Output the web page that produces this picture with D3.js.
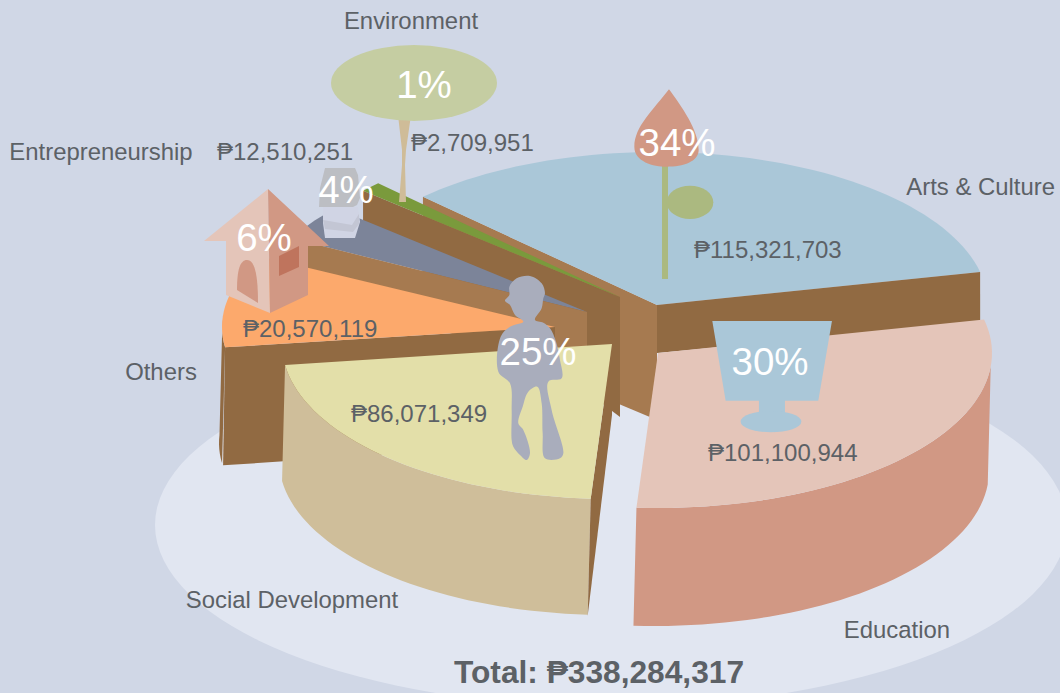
<!DOCTYPE html>
<html lang="en">
<head>
<meta charset="UTF-8">
<title>Total: ₱338,284,317</title>
<script src="https://d3js.org/d3.v7.min.js"></script>
<style>
    html, body { margin: 0; padding: 0; background: #d0d7e6; overflow: hidden; }
    svg { display: block; }
    text { font-family: "Liberation Sans", Arial, sans-serif; }
    .name { font-size: 23.9px; fill: #5c6166; }
    .amount { font-size: 24px; fill: #5c6166; }
    .pct { font-size: 38.5px; fill: #fff; text-anchor: middle; }
    .total { font-size: 31.7px; font-weight: bold; fill: #5c6166; text-anchor: middle; }
</style>
</head>
<body>
<svg width="1060" height="693"></svg>
<script>
    // data
    const categories = ["Arts & Culture", "Education", "Social Development", "Others", "Entrepreneurship", "Environment"];
    const amounts = [115321703, 101100944, 86071349, 20570119, 12510251, 2709951];
    const percents = ["34%", "30%", "25%", "6%", "4%", "1%"];
    const totalLabel = "Total: ₱338,284,317";

    // layout: one tilted ellipse per exploded slice (the picture is not a true projection)
    const topColor = ["#aac7d8", "#e4c5b9", "#e3dfa9", "#fca96c", "#7c8499", "#7a9a3c"];
    const geom = [
        { cx: 657, cy: 305, rx: 331, ry: 153 },
        { cx: 658, cy: 353, rx: 334, ry: 155 },
        { cx: 612, cy: 344, rx: 330, ry: 155 },
        { cx: 555, cy: 327, rx: 333, ry: 150 },
        { cx: 587, cy: 312, rx: 335, ry: 157 },
        { cx: 620, cy: 297, rx: 342, ry: 161 }
    ];
    const viewStops = [225, 347.5, 453.7, 532.2, 568, 581.3, 585];
    const namePos = [[1055, 195, "end"], [897, 638, "middle"], [292, 608, "middle"], [161, 380, "middle"], [101, 160, "middle"], [411, 29, "middle"]];
    const amountPos = [[694, 258], [708, 461], [351, 422], [243, 337], [217, 160], [411, 151]];
    const pctPos = [[677, 156], [770, 375], [538, 365], [264, 251], [346, 203], [424, 98]];

    const dark = "#916a42", light = "#a67a50";
    const svg = d3.select("svg");

    // pie boundaries -> drawn angle
    const arcs = d3.pie().sort(null).value(d => d)(amounts);
    const boundaries = arcs.map(a => a.startAngle).concat([arcs[arcs.length - 1].endAngle]);
    const viewAngle = d3.scaleLinear().domain(boundaries).range(viewStops);
    const angles = arcs.map(a => [viewAngle(a.startAngle), viewAngle(a.endAngle)]);

    const rad = d => d * Math.PI / 180;
    function rim(i, deg, drop, lean) {
        const g = geom[i];
        return [g.cx + g.rx * Math.cos(rad(deg)) + (lean || 0), g.cy + g.ry * Math.sin(rad(deg)) + (drop || 0)];
    }
    function sweep(a0, a1) {
        const n = Math.max(2, Math.ceil(Math.abs(a1 - a0) / 2));
        return d3.range(n + 1).map(k => a0 + (a1 - a0) * k / n);
    }
    const line = d3.line();
    function shape(points, fill) {
        return svg.append("path").attr("d", line(points) + "Z").attr("fill", fill);
    }
    function face(i) {
        const g = geom[i];
        shape([[g.cx, g.cy]].concat(sweep(angles[i][0], angles[i][1]).map(a => rim(i, a))), topColor[i]);
    }
    // cut wall between the apex and one rim point
    function wall(i, deg, outerDrop, apexDrop, fill, lean) {
        const g = geom[i];
        shape([rim(i, deg), [g.cx, g.cy], [g.cx, g.cy + apexDrop], rim(i, deg, outerDrop, lean)], fill);
    }
    // outside curved wall, bottom edge leans a little to the left in the picture
    function side(i, a0, a1, drop, fill, lean) {
        const angs = sweep(a0, a1);
        shape(angs.map(a => rim(i, a)).concat(angs.slice().reverse().map(a => rim(i, a, drop, lean))), fill);
    }

    // base plate
    svg.append("ellipse").attr("cx", 611).attr("cy", 525).attr("rx", 456).attr("ry", 182).attr("fill", "#e1e6f1");

    // slices, back to front
    wall(0, angles[0][0], 125, 115, light);
    face(0);
    wall(0, angles[0][1], 51, 48, dark);
    wall(5, angles[5][0], 32, 120, dark);
    face(5);
    face(4);
    wall(4, angles[4][0], 24, 60, light);
    side(3, angles[3][0], 543, 116, dark, -3);
    wall(3, angles[3][0], 118, 116, dark, -2);
    face(3);
    side(2, angles[2][0], angles[2][1], 116, "#cfbe9a", -3);
    wall(2, angles[2][0], 117, 71, dark, -3);
    face(2);
    side(1, 365, angles[1][1], 118, "#d19884", -3);
    face(1);

    // pictograms
    const flower = svg.append("g").attr("transform", "translate(600,80) scale(0.3333)");
    flower.append("rect").attr("x", 186).attr("y", 250).attr("width", 18).attr("height", 347).attr("fill", "#abb980");
    flower.append("ellipse").attr("cx", 270).attr("cy", 367).attr("rx", 70).attr("ry", 50).attr("fill", "#abb980");
    flower.append("path").attr("fill", "#d19884")
        .attr("d", "M207,28C160,90 103,140 103,200C103,245 160,260 200,260C250,260 296,245 296,210C296,150 245,80 207,28Z");

    const cup = svg.append("g").attr("transform", "translate(480,270) scale(0.3333)").attr("fill", "#aac7d8");
    cup.append("path").attr("d", "M697,153L1056,153L1015,392L915,392L915,440L837,440L837,392L737,392Z");
    cup.append("ellipse").attr("cx", 873).attr("cy", 455).attr("rx", 91).attr("ry", 32);

    const kidOutline = [[130,155],[105,135],[90,105],[75,92],[88,75],[88,50],[110,25],[150,18],[185,40],[195,70],[190,85],[185,115],[165,150],[190,158],[210,175],[228,215],[240,270],[245,325],[205,335],[215,420],[250,550],[240,565],[195,565],[188,490],[185,400],[172,350],[145,365],[128,410],[115,460],[130,480],[150,550],[140,570],[120,555],[100,530],[95,510],[95,420],[90,340],[55,305],[62,200],[90,170]];
    svg.append("path").attr("transform", "translate(480,270) scale(0.3333)").attr("fill", "#a9adbc")
        .attr("d", d3.line().curve(d3.curveCatmullRomClosed.alpha(0.5))(kidOutline));

    const house = svg.append("g");
    house.append("path").attr("fill", "#e4c5b9").attr("d", "M268,189L204,241L226,241L226,295L270,313L268,189Z");
    house.append("path").attr("fill", "#d19884").attr("d", "M268,189L329,246L308,246L308,295L270,313Z");
    house.append("path").attr("fill", "#d19884").attr("d", "M237,290C237,270 240,260 247,260C254,260 258,272 258,303Z");
    house.append("path").attr("fill", "#bf745d").attr("d", "M279,256L299,246L299,267L279,276Z");

    const books = svg.append("g");
    books.append("path").attr("fill", "#d0d4e4").attr("d", "M323,207L358,207L360,222L355,238L325,238L323,223Z");
    books.append("path").attr("fill", "#c3c6d4").attr("d", "M323,220L352,225L359,214L359,224L353,232L325,229Z");
    books.append("path").attr("fill", "#bcbec3").attr("d", "M325,168L355,168L358,175L360,198L357,205L353,207L319,207L320,188Z");

    // Environment tree
    svg.append("path").attr("fill", "#cfbc98").attr("d", "M398,115L405,118L411,115L406,150L405,165L406,202L399,202L402,165L402,150Z");
    svg.append("ellipse").attr("cx", 414).attr("cy", 83).attr("rx", 83).attr("ry", 38).attr("fill", "#c5cda2");

    // text
    svg.selectAll(".name").data(categories).join("text").attr("class", "name")
        .attr("x", (d, i) => namePos[i][0]).attr("y", (d, i) => namePos[i][1])
        .attr("text-anchor", (d, i) => namePos[i][2]).text(d => d);
    svg.selectAll(".amount").data(amounts).join("text").attr("class", "amount")
        .attr("x", (d, i) => amountPos[i][0]).attr("y", (d, i) => amountPos[i][1])
        .text(d => "₱" + d3.format(",")(d));
    svg.selectAll(".pct").data(percents).join("text").attr("class", "pct")
        .attr("x", (d, i) => pctPos[i][0]).attr("y", (d, i) => pctPos[i][1]).text(d => d);
    svg.append("text").attr("class", "total").attr("x", 599).attr("y", 683).text(totalLabel);
</script>
</body>
</html>
